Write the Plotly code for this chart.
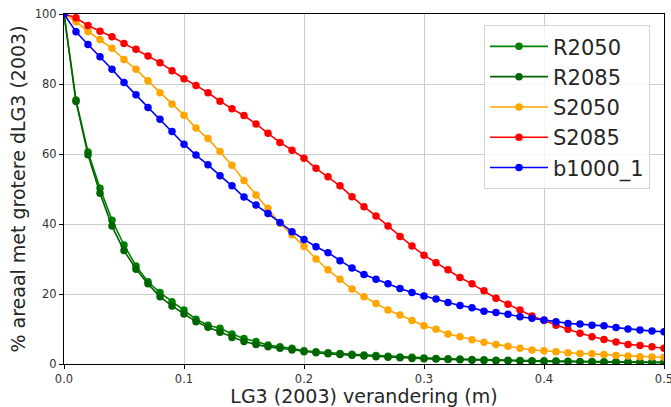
import plotly.graph_objects as go

# LG3 change (m)
x = [0.00, 0.01, 0.02, 0.03, 0.04, 0.05, 0.06, 0.07, 0.08, 0.09,
     0.10, 0.11, 0.12, 0.13, 0.14, 0.15, 0.16, 0.17, 0.18, 0.19,
     0.20, 0.21, 0.22, 0.23, 0.24, 0.25, 0.26, 0.27, 0.28, 0.29,
     0.30, 0.31, 0.32, 0.33, 0.34, 0.35, 0.36, 0.37, 0.38, 0.39,
     0.40, 0.41, 0.42, 0.43, 0.44, 0.45, 0.46, 0.47, 0.48, 0.49,
     0.50]

R2050 = [100, 75.4, 60.6, 50.2, 41.1, 34.0, 28.0, 23.5, 20.4, 17.8,
         15.4, 12.8, 11.1, 10.2, 8.6, 7.3, 6.4, 5.4, 4.9, 4.5,
         3.8, 3.5, 3.2, 3.0, 2.8, 2.6, 2.4, 2.2, 2.0, 1.9,
         1.7, 1.6, 1.5, 1.4, 1.3, 1.2, 1.1, 1.05, 1.0, 0.95,
         0.9, 0.85, 0.8, 0.75, 0.7, 0.67, 0.63, 0.6, 0.57, 0.54,
         0.5]

R2085 = [100, 75.0, 59.8, 48.8, 39.4, 32.4, 27.1, 22.9, 19.2, 16.6,
         14.3, 12.1, 10.5, 9.1, 7.6, 6.4, 5.6, 4.9, 4.5, 4.0,
         3.5, 3.2, 2.9, 2.7, 2.5, 2.3, 2.1, 1.9, 1.8, 1.6,
         1.5, 1.4, 1.3, 1.2, 1.1, 1.0, 0.95, 0.9, 0.85, 0.8,
         0.75, 0.7, 0.65, 0.6, 0.57, 0.53, 0.5, 0.47, 0.44, 0.42,
         0.4]

S2050 = [100, 97.8, 95.0, 92.7, 90.2, 87.0, 84.2, 80.9, 77.5, 74.3,
         71.1, 67.4, 64.4, 60.7, 56.8, 52.4, 48.3, 44.5, 40.2, 36.9,
         33.6, 30.0, 26.9, 24.2, 21.4, 19.2, 17.3, 15.4, 14.0, 12.4,
         10.9, 9.9, 8.6, 7.8, 6.9, 6.2, 5.6, 5.1, 4.5, 4.0,
         3.8, 3.5, 3.2, 3.0, 2.9, 2.7, 2.4, 2.3, 2.1, 2.0,
         1.9]

S2085 = [100, 98.9, 96.7, 95.1, 93.5, 91.6, 89.9, 88.0, 86.1, 83.8,
         81.5, 79.6, 77.5, 75.1, 72.9, 71.0, 68.6, 65.9, 63.3, 61.1,
         58.8, 55.9, 53.5, 50.9, 47.8, 44.9, 42.3, 39.4, 36.4, 33.7,
         31.1, 28.9, 26.9, 24.7, 22.9, 20.9, 18.8, 17.1, 15.4, 13.7,
         12.4, 11.1, 9.9, 8.8, 7.8, 7.0, 6.3, 5.6, 5.3, 4.9,
         4.5]

b1000_1 = [100, 94.9, 91.3, 87.8, 84.2, 80.4, 76.9, 73.3, 69.9, 66.4,
           62.8, 59.7, 56.9, 53.8, 50.9, 47.7, 45.4, 43.0, 40.4, 37.8,
           35.6, 33.5, 31.8, 29.5, 27.4, 25.6, 24.2, 22.9, 21.6, 20.4,
           19.4, 18.6, 17.6, 16.7, 16.1, 15.1, 14.7, 14.2, 13.5, 13.1,
           12.6, 12.1, 11.6, 11.4, 11.1, 10.9, 10.4, 10.0, 9.7, 9.4,
           9.2]

x_ticks = [0.0, 0.1, 0.2, 0.3, 0.4, 0.5]
x_ticklabels = ['0.0', '0.1', '0.2', '0.3', '0.4', '0.5']
y_ticks = [0, 20, 40, 60, 80, 100]

series = [
    ('R2050', R2050, '#008000'),
    ('R2085', R2085, '#006400'),
    ('S2050', S2050, '#FFA500'),
    ('S2085', S2085, '#FF0000'),
    ('b1000_1', b1000_1, '#0000FF'),
]

fig = go.Figure()
for name, vals, color in series:
    fig.add_trace(go.Scatter(
        x=x, y=vals, name=name, mode='lines+markers',
        line=dict(color=color, width=1.6),
        marker=dict(color=color, size=7.5),
        legendgroup=name,
    ))

axis_style = dict(
    showline=True, linecolor='black', linewidth=1, mirror=True,
    ticks='outside', ticklen=4, tickcolor='black',
    showgrid=True, gridcolor='#cccccc', gridwidth=1,
    zeroline=False, automargin=False,
    ticklabeloverflow='allow',
    tickfont=dict(size=11.5, color='#333333'),
)

fig.update_layout(
    width=671, height=407,
    margin=dict(l=64, r=7, t=14, b=43),
    plot_bgcolor='white', paper_bgcolor='white',
    font=dict(family='DejaVu Sans', color='#262626'),
    legend=dict(
        x=0.7, y=0.968, xanchor='left', yanchor='top',
        font=dict(size=21, color='#262626'),
        bgcolor='rgba(255,255,255,0.8)',
        bordercolor='#d5d5d5', borderwidth=1,
        tracegroupgap=0, itemwidth=58,
    ),
    showlegend=True,
)

fig.update_xaxes(axis_style, range=[0, 0.5], tickvals=x_ticks, ticktext=x_ticklabels,
                 title=dict(text='LG3 (2003) verandering (m)', font=dict(size=19), standoff=4))
fig.update_yaxes(axis_style, range=[0, 100], tickvals=y_ticks,
                 title=dict(text='% areaal met grotere dLG3 (2003)', font=dict(size=19), standoff=4))

# page body has a default 8px margin; drop it so the figure sits at the window corner
fig.write_html("out.html", config={'displayModeBar': False},
               post_script="document.body.style.margin='0px';")
